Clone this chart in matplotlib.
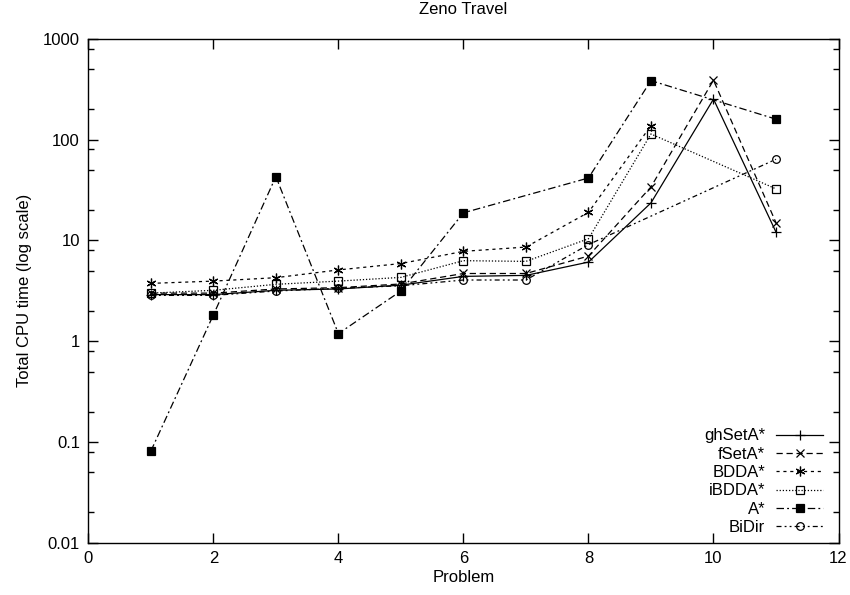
import numpy as np
import matplotlib
matplotlib.use('Agg')
import matplotlib.pyplot as plt
from matplotlib.ticker import LogLocator, FixedLocator, NullFormatter

plt.rcParams['font.family'] = ['Liberation Sans', 'DejaVu Sans']

problems = np.arange(1, 12)
nan = np.nan
ghSetA = [2.9, 2.9, 3.2, 3.3, 3.6, 4.4, 4.5, 6.1, 23.6, 253, 12.1]
fSetA = [3.0, 3.0, 3.3, 3.4, 3.7, 4.7, 4.7, 7.0, 34, 390, 15]
BDDA = [3.75, 3.95, 4.27, 5.1, 5.9, 7.8, 8.6, 19, 138, nan, nan]
iBDDA = [3.0, 3.2, 3.67, 3.95, 4.3, 6.3, 6.2, 10.4, 114, nan, 32.5]
Astar = [0.081, 1.82, 43, 1.19, 3.15, 18.8, nan, 41.7, 386, nan, 160]
BiDir = [2.85, 2.85, 3.15, 3.35, 3.55, 4.05, 4.05, 9.1, nan, nan, 64]

series = [
    ('ghSetA*', ghSetA, dict(linestyle='-', marker='+', ms=7, mfc='none')),
    ('fSetA*', fSetA, dict(dashes=(5, 3), marker='x', ms=6, mfc='none')),
    ('BDDA*', BDDA, dict(dashes=(2.5, 3), marker=(6, 2, 0), ms=7, mfc='none')),
    ('iBDDA*', iBDDA, dict(dashes=(1, 1.5), marker='s', ms=5.5, mfc='none')),
    ('A*', Astar, dict(dashes=(6, 2.5, 1.5, 2.5), marker='s', ms=6, mfc='black')),
    ('BiDir', BiDir, dict(dashes=(4, 2.5, 1.5, 2.5, 1.5, 2.5), marker='o', ms=5.5, mfc='none')),
]

fig = plt.figure(figsize=(8.5, 5.95), dpi=100)
ax = fig.add_axes([0.1039, 0.0879, 0.8826, 0.8466])

for name, vals, style in series:
    v = np.array(vals, dtype=float)
    ok = ~np.isnan(v)
    ax.plot(problems[ok], v[ok], color='black', lw=0.9, mec='black', mew=0.9, label=name, **style)

ax.set_yscale('log')
ax.set_xlim(0, 12)
ax.set_ylim(0.01, 1000)
ax.xaxis.set_major_locator(FixedLocator([0, 2, 4, 6, 8, 10, 12]))
ax.set_yticks([0.01, 0.1, 1, 10, 100, 1000])
ax.set_yticklabels(['0.01', '0.1', '1', '10', '100', '1000'])
ax.yaxis.set_minor_locator(LogLocator(base=10, subs=[2, 5, 8]))
ax.yaxis.set_minor_formatter(NullFormatter())
ax.tick_params(which='both', direction='in', top=True, right=True, labelsize=12, pad=6)
ax.tick_params(which='major', length=7, width=1)
ax.tick_params(which='minor', length=4, width=1)
for s in ax.spines.values():
    s.set_linewidth(1)

ax.set_title('Zeno Travel', fontsize=12, pad=18)
ax.set_xlabel('Problem', fontsize=12, labelpad=3)
ax.set_ylabel('Total CPU time (log scale)', fontsize=12, labelpad=8)

leg = ax.legend(loc='lower right', frameon=False, markerfirst=False, fontsize=12,
                handlelength=2.8, handletextpad=0.65, labelspacing=0.2,
                borderaxespad=0, bbox_to_anchor=(0.988, 0.002))

fig.savefig('out.png', dpi=100)
